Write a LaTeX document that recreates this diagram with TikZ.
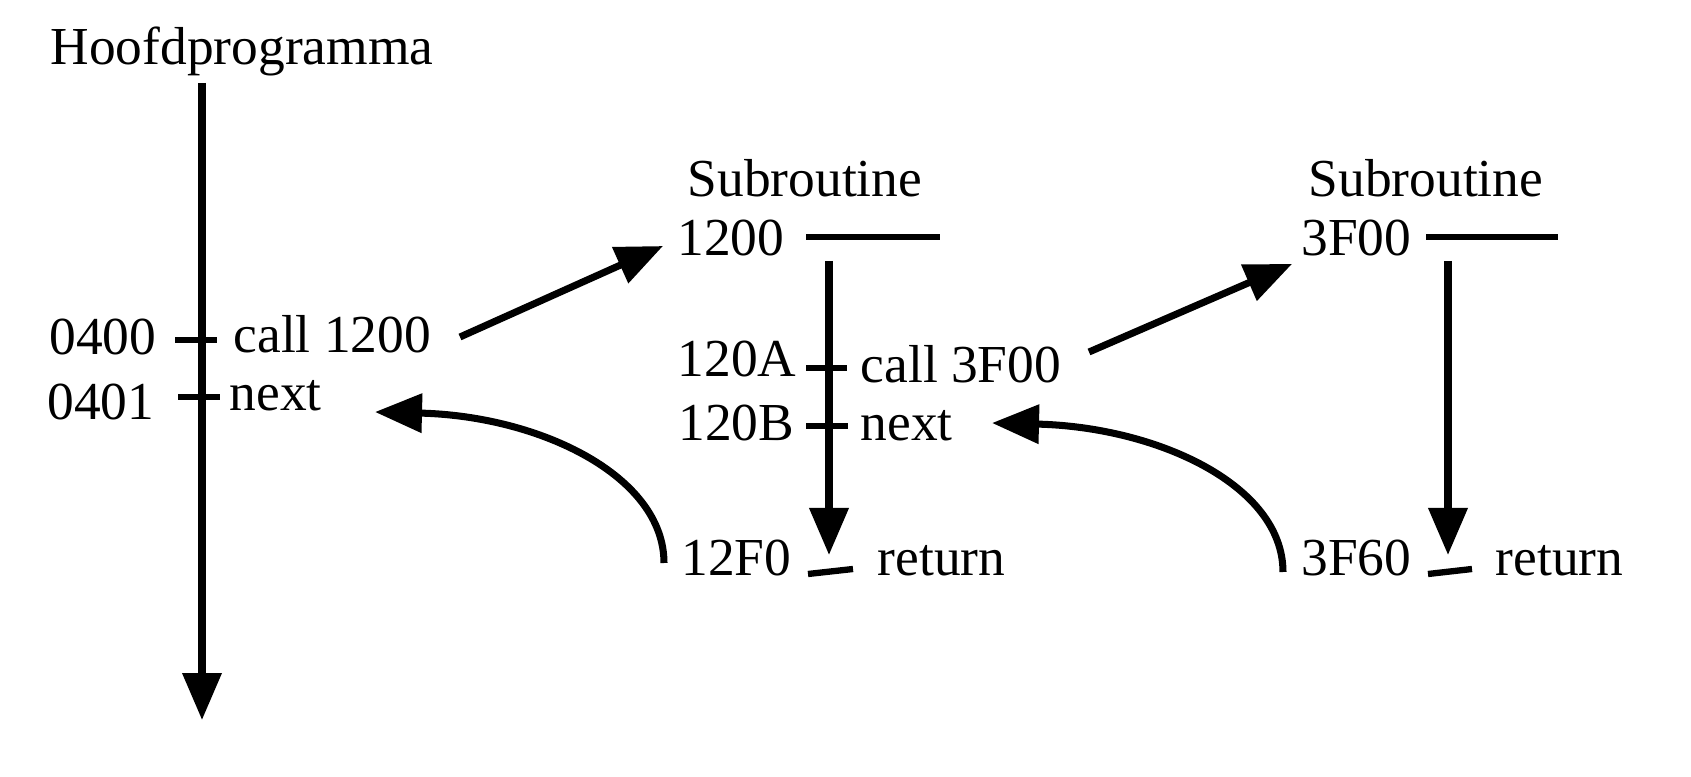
\documentclass[tikz,border=0pt]{standalone}
\usepackage{fontspec}
\setmainfont{Liberation Serif}
\usetikzlibrary{arrows.meta}

\tikzset{
  flow/.style={line width=2pt, -{Triangle[length=4.7mm, width=3.8mm]}},
  addrtick/.style={line width=1.8pt},
  lbl/.style={inner sep=0pt, font=\fontsize{15.2}{18}\selectfont},
}

\begin{document}
\begin{tikzpicture}
\useasboundingbox (0,0) rectangle (16.91,7.76);

% Define nodes
\path[every node/.style=lbl]
(2.42,7.11) node[anchor=base] (hoofd) {Hoofdprogramma}
(1.57,4.21) node[anchor=base east] (a0400) {0400}
(2.33,4.23) node[anchor=base west] (call1200) {call 1200}
(1.55,3.56) node[anchor=base east] (a0401) {0401}
(2.29,3.66) node[anchor=base west] (next1) {next}
;

\path[every node/.style=lbl]
(8.05,5.79) node[anchor=base] (sub1) {Subroutine}
(7.85,5.20) node[anchor=base east] (a1200) {1200}
(7.97,4.00) node[anchor=base east] (a120A) {120A}
(8.60,3.94) node[anchor=base west] (call3F00) {call 3F00}
(7.95,3.36) node[anchor=base east] (a120B) {120B}
(8.60,3.36) node[anchor=base west] (next2) {next}
(7.92,2.01) node[anchor=base east] (a12F0) {12F0}
(8.77,2.01) node[anchor=base west] (ret1) {return}
;

\path[every node/.style=lbl]
(14.26,5.79) node[anchor=base] (sub2) {Subroutine}
(14.12,5.20) node[anchor=base east] (a3F00) {3F00}
(14.12,2.01) node[anchor=base east] (a3F60) {3F60}
(14.95,2.01) node[anchor=base west] (ret2) {return}
;

% program lines
\coordinate (mtop) at (2.02,6.93);
\coordinate (mbot) at (2.02,0.56);
\coordinate (s1top) at (8.29,5.15);
\coordinate (s1bot) at (8.29,2.21);
\coordinate (s2top) at (14.48,5.15);
\coordinate (s2bot) at (14.48,2.21);

\draw[flow] (mtop) -- (mbot);
\draw[flow] (s1top) -- (s1bot);
\draw[flow] (s2top) -- (s2bot);

% address marks
\draw[addrtick] (mtop |- 0,4.36) +(-0.27,0) -- +(0.15,0);
\draw[addrtick] (mtop |- 0,3.79) +(-0.24,0) -- +(0.18,0);
\draw[addrtick] (s1top |- 0,4.08) +(-0.23,0) -- +(0.18,0);
\draw[addrtick] (s1top |- 0,3.50) +(-0.23,0) -- +(0.19,0);
\draw[addrtick] (s1bot |- 0,2.02) +(-0.21,0) -- +(0.24,0.05);
\draw[addrtick] (s2bot |- 0,2.02) +(-0.20,0) -- +(0.24,0.05);
\draw[addrtick] (8.06,5.39) -- (9.40,5.39);
\draw[addrtick] (14.26,5.39) -- (15.58,5.39);

% calls and returns
\coordinate (c1s) at (4.60,4.39);
\coordinate (c1e) at (6.63,5.30);
\coordinate (c2s) at (10.89,4.24);
\coordinate (c2e) at (12.92,5.12);
\coordinate (r1s) at (6.64,2.13);
\coordinate (r1e) at (3.75,3.64);
\coordinate (r2s) at (12.83,2.04);
\coordinate (r2e) at (9.92,3.53);

\draw[flow] (c1s) -- (c1e);
\draw[flow] (c2s) -- (c2e);
\draw[flow] (r1s) .. controls +(0,0.87) and +(1.65,-0.04) .. (r1e);
\draw[flow] (r2s) .. controls +(0,0.87) and +(1.65,-0.04) .. (r2e);

\end{tikzpicture}
\end{document}
